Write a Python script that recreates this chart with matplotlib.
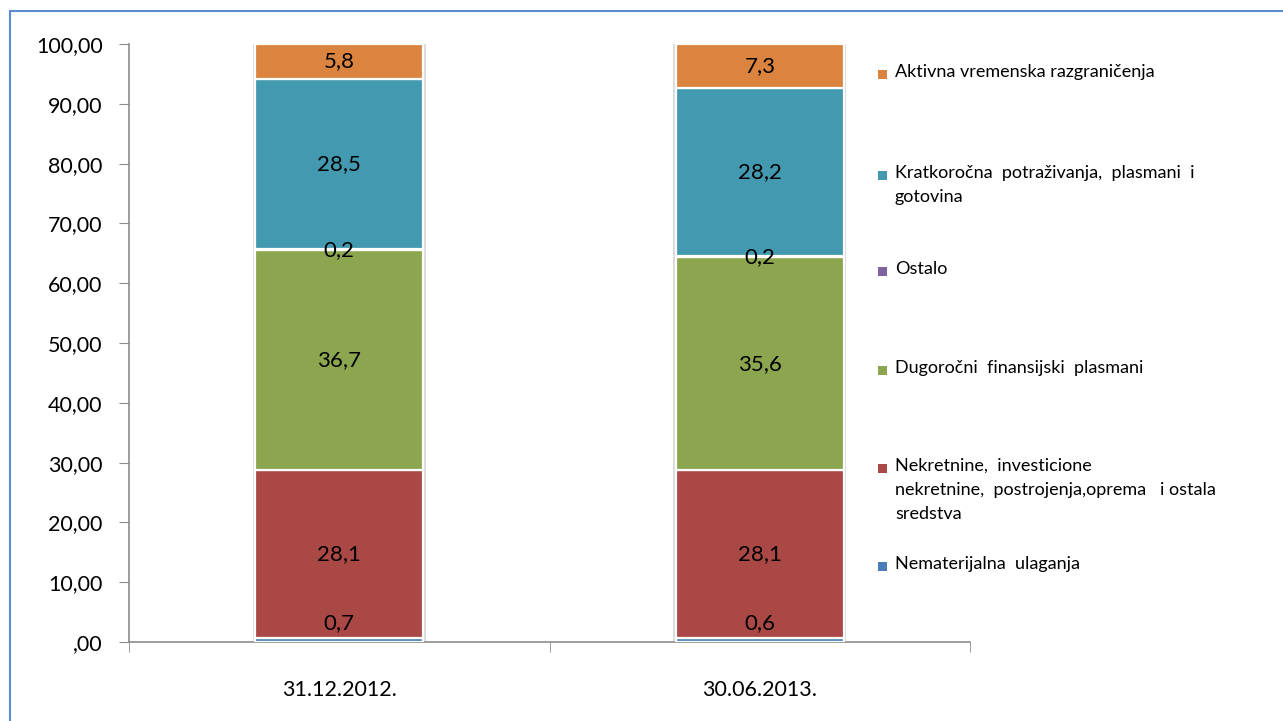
#!/usr/bin/env python3
"""
Struktura aktive - stacked bar chart (31.12.2012. vs 30.06.2013.)
"""

import matplotlib
matplotlib.use("Agg")
import matplotlib.pyplot as plt
import matplotlib.patches as mpatches
import numpy as np

# ============================================================
# DATA
# ============================================================

dates = ["31.12.2012.", "30.06.2013."]

series_names = [
    "Nematerijalna  ulaganja",
    "Nekretnine,  investicione\nnekretnine,  postrojenja,oprema   i ostala\nsredstva",
    "Dugoročni  finansijski  plasmani",
    "Ostalo",
    "Kratkoročna  potraživanja,  plasmani  i\ngotovina",
    "Aktivna vremenska razgraničenja",
]

nematerijalna = [0.7, 0.6]
nekretnine = [28.1, 28.1]
dugorocni = [36.7, 35.6]
ostalo = [0.2, 0.2]
kratkorocna = [28.5, 28.2]
aktivna = [5.8, 7.3]

series_values = [nematerijalna, nekretnine, dugorocni, ostalo, kratkorocna, aktivna]

colors = ["#4A7EBB", "#AA4846", "#8BA64E", "#7E63A0", "#4299B0", "#DB8440"]

yticks = np.arange(0, 101, 10)

# ============================================================
# STYLE
# ============================================================

plt.rcParams["font.family"] = ["Lato", "DejaVu Sans"]

AXIS_GRAY = "#8C8C8C"

# ============================================================
# FIGURE
# ============================================================

fig = plt.figure(figsize=(12.83, 7.21), dpi=100)

ax = fig.add_axes([129 / 1283, 1 - 642 / 721, (970 - 129) / 1283, (642 - 44) / 721])

x = np.arange(len(dates))
bottom = np.zeros(len(dates))

for values, color in zip(series_values, colors):

    vals = np.array(values)

    ax.bar(
        x,
        vals,
        width=0.4,
        bottom=bottom,
        color=color,
        edgecolor="white",
        linewidth=1.6,
        zorder=3
    )

    for xi, b, v in zip(x, bottom, vals):
        yc = max(b + v / 2, 3.2)
        ax.text(
            xi,
            yc,
            f"{v:.1f}".replace(".", ","),
            ha="center",
            va="center",
            fontsize=16,
            color="black",
            zorder=4
        )

    bottom = bottom + vals

# faint shadow around the bars
for xi, total in zip(x, bottom):
    ax.add_patch(
        mpatches.Rectangle(
            (xi - 0.2 - 0.006, 0),
            0.4 + 0.012,
            total + 0.3,
            facecolor="#DADADA",
            edgecolor="none",
            zorder=2
        )
    )

ax.set_xlim(-0.5, 1.5)
ax.set_ylim(0, 100)

ax.set_yticks(yticks)
ax.set_yticklabels(
    [(f"{v:.2f}".replace(".", ",") if v != 0 else ",00") for v in yticks],
    fontsize=15.5
)

ax.set_xticks(x)
ax.set_xticklabels(dates, fontsize=15.5)
ax.set_xticks([-0.5, 0.5, 1.5], minor=True)

ax.tick_params(axis="x", which="major", length=0, pad=27)
ax.tick_params(axis="x", which="minor", length=7, color=AXIS_GRAY, direction="out")
ax.tick_params(axis="y", length=7, color=AXIS_GRAY, direction="out", pad=12)

for side in ["top", "right"]:
    ax.spines[side].set_visible(False)

for side in ["left", "bottom"]:
    ax.spines[side].set_color(AXIS_GRAY)
    ax.spines[side].set_linewidth(1.2)

# ============================================================
# LEGEND (manual, Excel-like placement)
# ============================================================

legend_y = [566, 468, 370, 271, 175, 74]

for name, color, ypix in zip(series_names, colors, legend_y):

    yf = 1 - ypix / 721

    fig.patches.append(
        mpatches.Rectangle(
            (878 / 1283, yf - 4.5 / 721),
            9 / 1283,
            9 / 721,
            transform=fig.transFigure,
            facecolor=color,
            edgecolor="none"
        )
    )

    fig.text(
        895 / 1283,
        yf + 10 / 721,
        name,
        ha="left",
        va="top",
        fontsize=13,
        linespacing=1.6
    )

# ============================================================
# CHART BORDER
# ============================================================

fig.patches.append(
    mpatches.Rectangle(
        (10 / 1283, -0.1),
        1.2,
        1 - 11 / 721 + 0.1,
        transform=fig.transFigure,
        facecolor="none",
        edgecolor="#5B8BD0",
        linewidth=1.5
    )
)

fig.savefig("out.png", dpi=100)
